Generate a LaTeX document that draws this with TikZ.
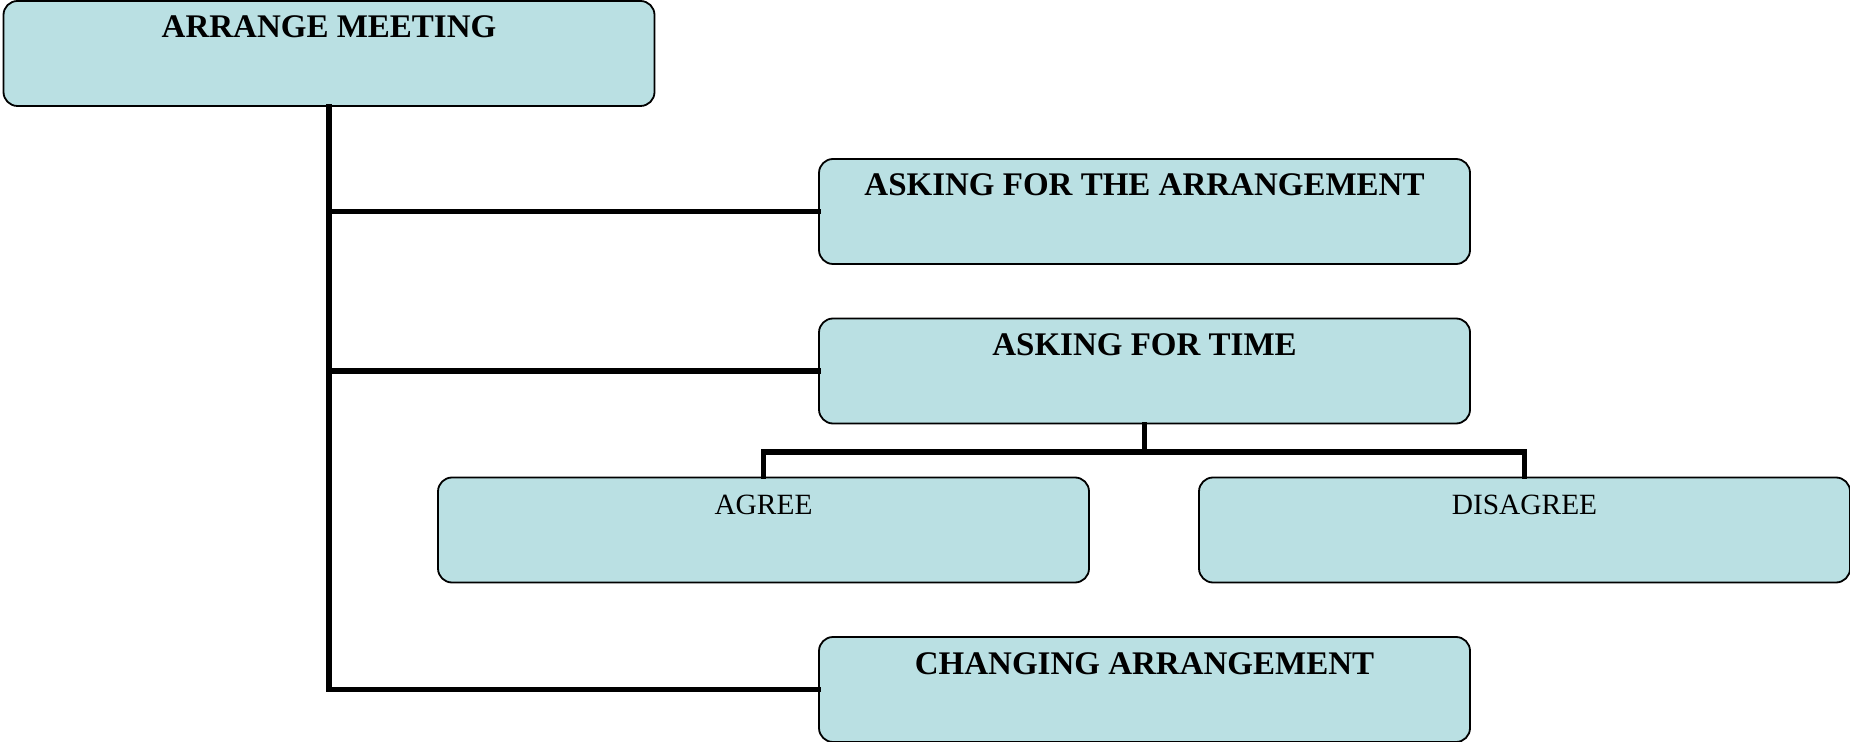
\documentclass[tikz,border=0pt]{standalone}
\usepackage{fontspec}
\setmainfont{Liberation Serif}
\usepackage{tikz}
\usetikzlibrary{positioning}
\definecolor{boxblue}{RGB}{186,224,227}

\begin{document}
\begin{tikzpicture}[x=0.5pt,y=-0.5pt,
  box/.style={draw=black,fill=boxblue,line width=0.9pt,rounded corners=7pt,
    minimum width=325.5pt,inner xsep=0pt,inner ysep=0pt,
    text height=18.5pt,text depth=34pt,align=center,
    font=\fontsize{14.7pt}{18pt}\selectfont},
  head/.style={box,font=\fontsize{16.5pt}{20pt}\selectfont\bfseries},
  link/.style={line width=2.8pt,line cap=rect}]
\useasboundingbox (0,0) rectangle (1850,742);
\node [head] (meet) at (329,53.5) {ARRANGE MEETING};
\node [head] (arrange) at (1144.5,211.5) {ASKING FOR THE ARRANGEMENT};
\node [head] (time) at (1144.5,371) {ASKING FOR TIME};
\node [box] (agree) at (763.5,530) {AGREE};
\node [box] (disagree) at (1524.5,530) {DISAGREE};
\node [head] (change) at (1144.5,689.5) {CHANGING ARRANGEMENT};
\draw [link] (meet.south) |- (change.west);
\draw [link] (meet.south) |- (arrange.west);
\draw [link] (meet.south) |- (time.west);
\draw [link] (time.south) -- ++(0,27.5) coordinate (fork);
\draw [link] (fork) -| (agree.north);
\draw [link] (fork) -| (disagree.north);
\end{tikzpicture}
\end{document}
